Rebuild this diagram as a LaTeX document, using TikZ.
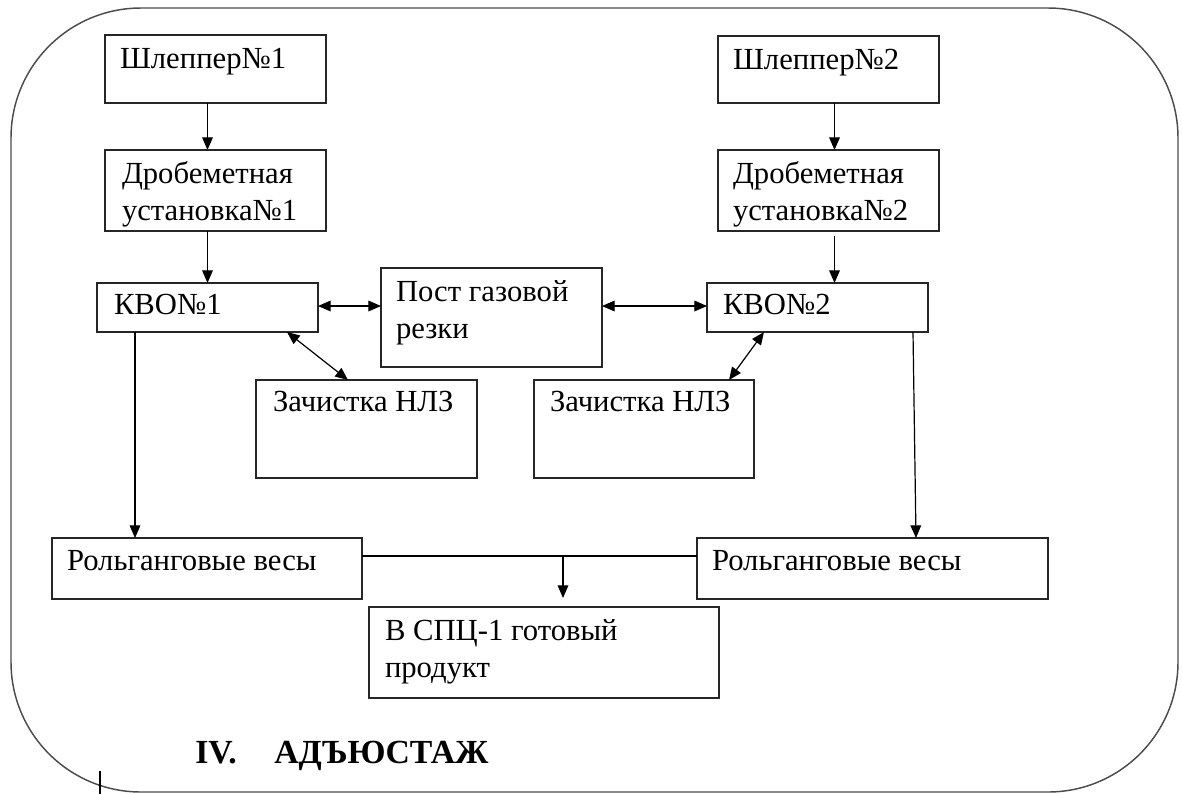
\documentclass[tikz,border=0pt]{standalone}
\usepackage{fontspec}
\setmainfont{Liberation Serif}
\newfontfamily\ruserif{Liberation Serif}
\usetikzlibrary{arrows.meta,calc}
\begin{document}
\begin{tikzpicture}[x=0.75pt,y=-0.75pt,
  box/.style={draw=black!85,line width=1.1pt,inner sep=0pt,outer sep=0pt,rectangle},
  lbl/.style={anchor=base west,inner sep=0pt,outer sep=0pt,align=left,
    font=\ruserif\fontsize{23}{27.75}\selectfont},
  ttl/.style={anchor=base west,inner sep=0pt,font=\ruserif\fontsize{25.3}{28}\selectfont\bfseries},
  conn/.style={draw=black,line width=0.9pt},
  arr/.style={conn,-{Triangle[length=9.5pt,width=8pt]}},
  darr/.style={conn,{Triangle[length=9.5pt,width=8pt]}-{Triangle[length=9.5pt,width=8pt]}},
  frame/.style={draw=black!70,line width=1.1pt,rounded corners=97.5pt}
]
\useasboundingbox (0,0) rectangle (1182,794);
\path[frame] (11,8) rectangle (1178,792);

% boxes
\node[box,minimum width=221*0.75pt,minimum height=68*0.75pt] (s1) at (215.5,69) {};
\node[box,minimum width=221*0.75pt,minimum height=81*0.75pt] (d1) at (215.5,190.5) {};
\node[box,minimum width=221*0.75pt,minimum height=49*0.75pt] (k1) at (207.5,307.5) {};
\node[box,minimum width=221*0.75pt,minimum height=99*0.75pt] (p) at (491.5,317.5) {};
\node[box,minimum width=221*0.75pt,minimum height=98*0.75pt] (z1) at (366.5,429) {};
\node[box,minimum width=220*0.75pt,minimum height=98*0.75pt] (z2) at (644,429) {};
\node[box,minimum width=221*0.75pt,minimum height=67*0.75pt] (s2) at (828.5,69.5) {};
\node[box,minimum width=221*0.75pt,minimum height=81*0.75pt] (d2) at (828.5,190.5) {};
\node[box,minimum width=221*0.75pt,minimum height=49*0.75pt] (k2) at (817.5,307.5) {};
\node[box,minimum width=310*0.75pt,minimum height=61*0.75pt] (r1) at (207,568.5) {};
\node[box,minimum width=351*0.75pt,minimum height=61*0.75pt] (r2) at (872.5,568.5) {};
\node[box,minimum width=350*0.75pt,minimum height=91*0.75pt] (v) at (544,652.5) {};

% texts (base anchor = baseline of last line)
\node[lbl] (s1t) at (120,68) {Шлеппер№1};
\node[lbl] (d1t) at (122,220) {Дробеметная\\установка№1};
\node[lbl] (k1t) at (114,314) {КВО№1};
\node[lbl] (pt) at (396,338) {Пост газовой\\резки};
\node[lbl] (z1t) at (273,411) {Зачистка НЛЗ};
\node[lbl] (z2t) at (550,411) {Зачистка НЛЗ};
\node[lbl] (s2t) at (733,69) {Шлеппер№2};
\node[lbl] (d2t) at (733,220) {Дробеметная\\установка№2};
\node[lbl] (k2t) at (723,314) {КВО№2};
\node[lbl] (r1t) at (67,570) {Рольганговые весы};
\node[lbl] (r2t) at (712,570) {Рольганговые весы};
\node[lbl] (vt) at (385,677) {В СПЦ-1 готовый\\продукт};
\node[ttl] (t1) at (195,763) {IV.};
\node[ttl] (t2) at (274,763) {АДЪЮСТАЖ};

% connectors
\draw[arr] (s1.south -| k1) -- (d1.north -| k1);
\draw[arr] (d1.south -| k1) -- (k1.north);
\draw[arr] ($(s2.south)+(6,0)$) -- ($(d2.north)+(6,0)$);
\draw[arr] ($(d2.south)+(6,5)$) -- ($(k2.north)+(17,0)$);
\draw[darr] (k1.east |- 0,306) -- (p.west |- 0,306);
\draw[darr] (p.east |- 0,306) -- (k2.west |- 0,306);
\draw[darr] ($(k1.south east)+(-31,0)$) -- ($(z1.north west)+(92,0)$);
\draw[darr] ($(k2.south west)+(57,0)$) -- ($(z2.north east)+(-25,0)$);
\draw[arr] ($(k1.south west)+(38,0)$) -- ($(r1.north west)+(83,0)$);
\draw[arr] ($(k2.south east)+(-15,0)$) -- ($(r2.north west)+(219,0)$);
\coordinate (j) at ($(v.north)+(19,-51)$);
\draw[conn] (r1.east |- j) -- (r2.west |- j);
\draw[arr] (j) -- ($(v.north)+(19,-9)$);

% stray mark
\coordinate (m1) at (100,771);
\coordinate (m2) at (100,794);
\draw[black,line width=1.5pt] (m1) -- (m2);
\end{tikzpicture}
\end{document}
